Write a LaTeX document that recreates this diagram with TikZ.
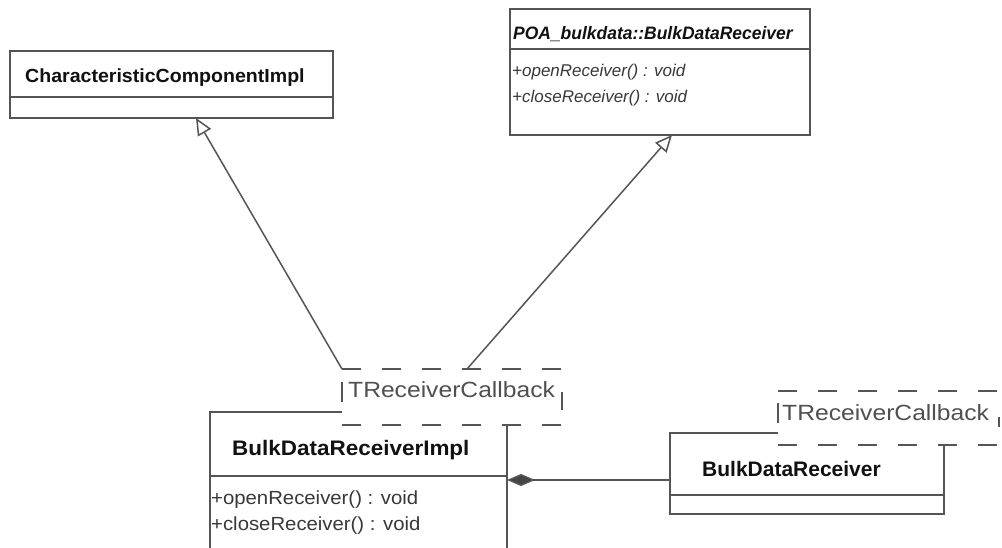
\documentclass[tikz,border=0pt]{standalone}
\usepackage{fontspec}
\setmainfont{Liberation Sans}
\usepackage{graphicx}
\usetikzlibrary{arrows.meta}
\definecolor{linec}{HTML}{555555}
\definecolor{ttlc}{HTML}{111111}
\definecolor{mthc}{HTML}{383838}
\definecolor{cbc}{HTML}{505050}
\newcommand\ttlfont{\fontsize{21}{25}\selectfont\bfseries}
\newcommand\mthfont{\fontsize{19}{23}\selectfont}
\newcommand\cbfont{\fontsize{22}{26}\selectfont}
\begin{document}
\begin{tikzpicture}[x=1pt,y=-1pt,
  classbox/.style={draw=linec, line width=1.5pt, fill=white, inner sep=0pt, outer sep=0pt, anchor=north west},
  tplbox/.style={fill=white, inner sep=0pt, outer sep=0pt, anchor=north west},
  sepline/.style={draw=linec, line width=1.5pt},
  tpledge/.style={draw=linec, line width=1.5pt, dash pattern=on 19pt off 21pt},
  tpltick/.style={draw=linec, line width=1.5pt},
  ttl/.style={anchor=base west, inner sep=0pt, font=\ttlfont, text=ttlc},
  mth/.style={anchor=base west, inner sep=0pt, font=\mthfont, text=mthc},
  cbtxt/.style={anchor=base west, inner sep=0pt, font=\cbfont, text=cbc},
  genline/.style={draw=linec, line width=1.5pt, -{Triangle[open, length=17pt, width=15pt, fill=white]}},
  compline/.style={draw=linec, line width=1.5pt, {Diamond[length=28pt, width=12pt, fill=linec!80!black]}-}
]
\fill[white] (0,0) rectangle (1002,548);
\useasboundingbox (0,0) rectangle (1002,548);
\clip (0,0) rectangle (1002,548);

% CharacteristicComponentImpl
\node[classbox, minimum width=323pt, minimum height=67pt] (cci) at (10,51) {};
\coordinate (ccisep) at (0,97);
\draw[sepline] (cci.west |- ccisep) -- (cci.east |- ccisep);
\node[ttl, font=\fontsize{19}{23}\selectfont\bfseries] (ccit) at (25,83) {\scalebox{1.03}[1]{CharacteristicComponentImpl}};

% POA_bulkdata::BulkDataReceiver
\node[classbox, minimum width=300pt, minimum height=126pt] (poa) at (510,9) {};
\coordinate (poasep) at (0,49);
\draw[sepline] (poa.west |- poasep) -- (poa.east |- poasep);
\node[ttl, font=\fontsize{18}{22}\selectfont\bfseries\itshape] (poat) at (513,40) {\scalebox{0.97}[1]{POA\_bulkdata::BulkDataReceiver}};
\node[mth, font=\fontsize{17}{21}\selectfont\itshape] (poam1) at (512,77) {+openReceiver() : void};
\node[mth, font=\fontsize{17}{21}\selectfont\itshape] (poam2) at (512,103) {+closeReceiver() : void};

% BulkDataReceiverImpl
\node[classbox, minimum width=297pt, minimum height=170pt] (bdri) at (210,412) {};
\coordinate (bdrisep) at (0,476);
\draw[sepline] (bdri.west |- bdrisep) -- (bdri.east |- bdrisep);
\node[ttl] (bdrit) at (232,455) {\scalebox{1.07}[1]{BulkDataReceiverImpl}};
\node[mth] (bdrim1) at (211,504) {\scalebox{1.07}[1]{+openReceiver() : void}};
\node[mth] (bdrim2) at (211,530) {\scalebox{1.07}[1]{+closeReceiver() : void}};

% BulkDataReceiver
\node[classbox, minimum width=274pt, minimum height=81pt] (bdr) at (670,433) {};
\coordinate (bdrsep) at (0,495);
\draw[sepline] (bdr.west |- bdrsep) -- (bdr.east |- bdrsep);
\node[ttl] (bdrt) at (702,476) {BulkDataReceiver};

% template parameter box 1
\node[tplbox, minimum width=220pt, minimum height=56pt] (cb1) at (342,369) {};
\draw[tpledge] (cb1.north west) -- (cb1.north east);
\draw[tpledge] (cb1.south west) -- (cb1.south east);
\draw[tpltick] ([yshift=-13pt]cb1.north west) -- ([yshift=-33pt]cb1.north west);
\draw[tpltick] ([yshift=-23pt]cb1.north east) -- ([yshift=-41pt]cb1.north east);
\node[cbtxt] (cb1t) at (348,397) {\scalebox{1.12}[1]{TReceiverCallback}};

% template parameter box 2
\node[tplbox, minimum width=221pt, minimum height=54pt] (cb2) at (778,391) {};
\draw[tpledge] (cb2.north west) -- (cb2.north east);
\draw[tpledge] (cb2.south west) -- (cb2.south east);
\draw[tpltick] ([yshift=-12pt]cb2.north west) -- ([yshift=-32pt]cb2.north west);
\draw[tpltick] ([yshift=-26pt]cb2.north east) -- ([yshift=-36pt]cb2.north east);
\node[cbtxt] (cb2t) at (782,420) {\scalebox{1.12}[1]{TReceiverCallback}};

% generalizations
\coordinate (g1end) at ([xshift=186pt]cci.south west);
\coordinate (g2start) at ([xshift=125pt]cb1.north west);
\coordinate (g2end) at ([xshift=162pt]poa.south west);
\draw[genline] (cb1.north west) -- (g1end);
\draw[genline] (g2start) -- (g2end);

% composition
\coordinate (comph) at (0,480);
\draw[compline] (bdri.east |- comph) -- (bdr.west |- comph);
\end{tikzpicture}
\end{document}
